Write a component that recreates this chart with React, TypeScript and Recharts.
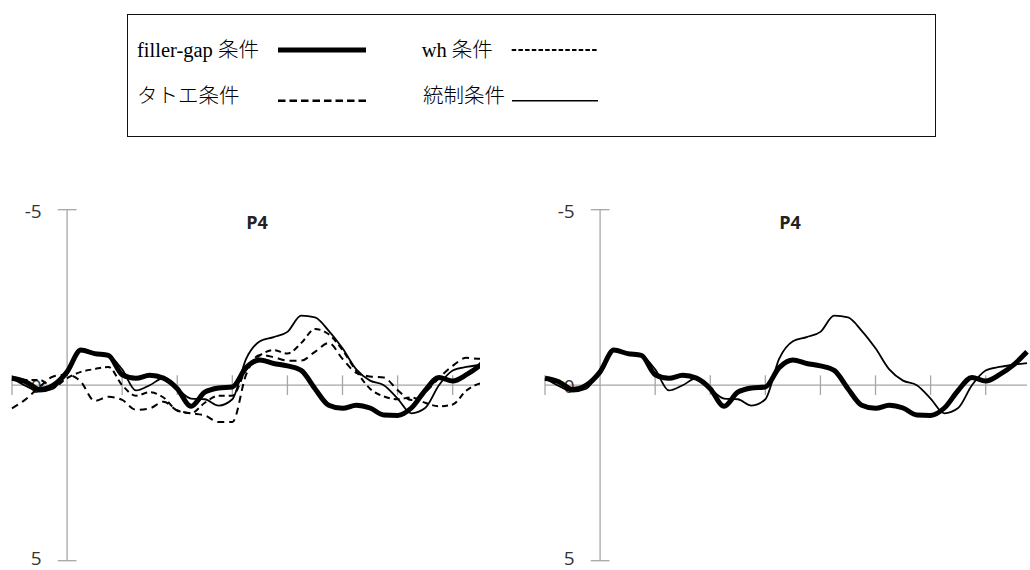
import { LineChart, Line, XAxis, YAxis, ReferenceLine } from 'recharts';

// time in ms, amplitude in µV (negative up)
const times = [
  -100, -75, -50, -25, 0, 25, 50, 75, 100, 125, 150, 175, 200, 225, 250, 275, 300, 325,
  350, 375, 400, 425, 450, 475, 500, 525, 550, 575, 600, 625, 650, 675, 700, 725, 750, 775,
];

const fillerGap = [
  -0.2, -0.1, 0.12, 0.0, -0.38, -1.0, -0.9, -0.85, -0.3, -0.2, -0.28, -0.2, 0.1, 0.6, 0.2, 0.08, 0.05, -0.5,
  -0.72, -0.62, -0.55, -0.42, 0.1, 0.57, 0.66, 0.57, 0.65, 0.85, 0.86, 0.65, 0.15, -0.22, -0.12, -0.3, -0.57, -0.95,
];

const tatoe = [
  0.66, 0.4, 0.05, -0.25, -0.3, -0.1, 0.45, 0.33, 0.42, 0.7, 0.66, 0.47, 0.72, 0.8, 0.86, 1.05, 1.05, -0.3,
  -0.86, -0.8, -0.7, -0.7, -0.95, -1.2, -0.75, -0.35, -0.25, -0.22, 0.14, 0.42, 0.2, -0.2, -0.55, -0.78, -0.75, -0.8,
];

const wh = [
  -0.25, -0.15, -0.15, 0.05, -0.2, -0.38, -0.46, -0.52, 0.0, 0.3, 0.2, 0.35, 0.72, 0.8, 0.5, 0.3, 0.3, -0.45,
  -0.85, -1.0, -0.9, -1.2, -1.6, -1.45, -1.0, -0.4, 0.1, 0.32, 0.4, 0.35, 0.5, 0.6, 0.55, 0.15, -0.05, -0.1,
];

const control = [
  -0.2, 0.02, 0.18, 0.1, -0.45, -1.03, -0.92, -0.85, -0.45, 0.15, 0.0, -0.2, 0.1, 0.38, 0.4, 0.58, 0.4, -0.75,
  -1.25, -1.37, -1.52, -1.98, -1.93, -1.55, -1.05, -0.45, -0.13, 0.0, 0.38, 0.8, 0.65, 0.0, -0.42, -0.52, -0.58, -0.63,
];

const yTicks = [-5, 0, 5];
const xTicks = [-100, 100, 200, 300, 400, 500, 600, 700];
const title = 'P4';

const series = [
  { key: 'tatoe', name: 'タトエ条件', width: 2, dash: '7 5', legendWidth: 2.5, legendDash: '7.5 4' },
  { key: 'wh', name: 'wh 条件', width: 2, dash: '6 4', legendWidth: 2, legendDash: '4.5 2.2' },
  { key: 'control', name: '統制条件', width: 1.8, dash: undefined, legendWidth: 1.5, legendDash: undefined },
  { key: 'fillerGap', name: 'filler-gap 条件', width: 5, dash: undefined, legendWidth: 5, legendDash: undefined },
];

const data = times.map((t, i) => ({
  t,
  fillerGap: fillerGap[i],
  tatoe: tatoe[i],
  wh: wh[i],
  control: control[i],
}));

const axisColor = '#a6a6a6';
const labelFont = '"Open Sans", Lato, sans-serif';

const tickLabel = (value: number) => (props: any) => {
  const vb = props.viewBox || {};
  const x = (vb.x ?? 0) - 16;
  // keep the bottom label inside the frame
  const y = (vb.y ?? 0) + (vb.height ?? 0) / 2 + (value > 0 ? -2.5 : 1);
  return (
    <text x={x} y={y} textAnchor="end" dominantBaseline="central" fontSize={19} fill="#333" fontFamily={labelFont}>
      {value}
    </text>
  );
};

function Panel({ left, width, chartWidth, marginLeft, marginRight, keys }: any) {
  return (
    <div style={{ position: 'absolute', left, top: 180, width, height: 390, overflow: 'hidden' }}>
      <LineChart width={chartWidth} height={390} data={data} margin={{ top: 29.7, right: marginRight, bottom: 9.3, left: marginLeft }}>
        <XAxis dataKey="t" type="number" domain={[-100, 775]} hide />
        <YAxis type="number" domain={[-5, 5]} reversed hide />
        <ReferenceLine y={0} stroke={axisColor} strokeWidth={1.3} />
        <ReferenceLine x={0} stroke={axisColor} strokeWidth={1.3} />
        {xTicks.map((v) => (
          <ReferenceLine key={'x' + v} segment={[{ x: v, y: -0.28 }, { x: v, y: 0.28 }]} stroke={axisColor} strokeWidth={1.3} />
        ))}
        {yTicks.map((v) => (
          <ReferenceLine
            key={'y' + v}
            segment={[{ x: -17, y: v }, { x: 17, y: v }]}
            stroke={v === 0 ? 'none' : axisColor}
            strokeWidth={1.3}
            label={{ position: 'left', content: tickLabel(v) }}
          />
        ))}
        {series
          .filter((s) => keys.includes(s.key))
          .map((s) => (
            <Line
              key={s.key}
              dataKey={s.key}
              name={s.name}
              type="monotone"
              stroke="#000"
              strokeWidth={s.width}
              strokeDasharray={s.dash}
              dot={false}
              activeDot={false}
              isAnimationActive={false}
            />
          ))}
      </LineChart>
      <div
        style={{
          position: 'absolute',
          left: marginLeft + 55 + 190 - 50,
          top: 29.7,
          width: 100,
          lineHeight: '24px',
          textAlign: 'center',
          fontFamily: labelFont,
          fontWeight: 700,
          fontSize: 18,
          color: '#222',
        }}
      >
        {title}
      </div>
    </div>
  );
}

function LegendBox() {
  const byKey = (k: string) => series.find((s) => s.key === k)!;
  const items = [
    { s: byKey('fillerGap'), tx: 9, ty: 22.5, x1: 150, x2: 238, ly: 35 },
    { s: byKey('wh'), tx: 293.7, ty: 22.5, x1: 383.7, x2: 470, ly: 35 },
    { s: byKey('tatoe'), tx: 9, ty: 69, x1: 150, x2: 238, ly: 85.7 },
    { s: byKey('control'), tx: 295, ty: 69, x1: 384, x2: 470, ly: 85.7 },
  ];
  return (
    <div
      style={{
        position: 'absolute',
        left: 127,
        top: 14,
        width: 807,
        height: 121,
        border: '1px solid #111',
        fontFamily: '"Liberation Serif", "Noto Sans CJK JP", serif',
        fontSize: 20.5,
        fontWeight: 300,
        color: '#000',
      }}
    >
      {items.map((it) => (
        <div key={it.s.key} style={{ position: 'absolute', left: it.tx, top: it.ty, lineHeight: '24px', whiteSpace: 'nowrap' }}>
          {it.s.name}
        </div>
      ))}
      <svg width={807} height={121} style={{ position: 'absolute', left: 0, top: 0 }}>
        {items.map((it) => (
          <line
            key={it.s.key}
            x1={it.x1}
            x2={it.x2}
            y1={it.ly}
            y2={it.ly}
            stroke="#000"
            strokeWidth={it.s.legendWidth}
            strokeDasharray={it.s.legendDash}
          />
        ))}
      </svg>
    </div>
  );
}

export default function App() {
  return (
    <div style={{ position: 'fixed', left: 0, top: 0, width: 1030, height: 570, overflow: 'hidden', background: '#fff' }}>
      <LegendBox />
      <Panel left={0} width={480} chartWidth={494} marginLeft={12} marginRight={0} keys={['fillerGap', 'tatoe', 'wh', 'control']} />
      <Panel left={520} width={510} chartWidth={510} marginLeft={25} marginRight={3} keys={['fillerGap', 'control']} />
    </div>
  );
}
